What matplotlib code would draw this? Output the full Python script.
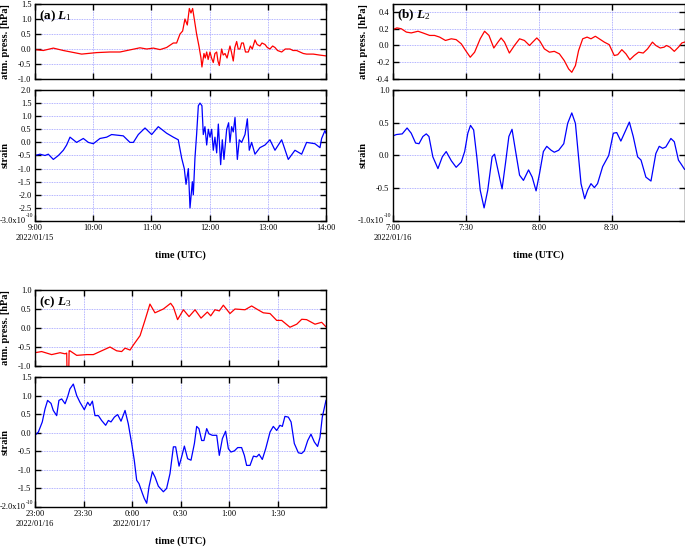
import matplotlib
matplotlib.use("Agg")
import matplotlib.pyplot as plt
import numpy as np
from matplotlib.ticker import FuncFormatter, MultipleLocator

plt.rcParams['font.family'] = 'Liberation Serif'
plt.rcParams['mathtext.fontset'] = 'custom'
plt.rcParams['mathtext.rm'] = 'Liberation Serif'
plt.rcParams['mathtext.it'] = 'Liberation Serif:italic:bold'
plt.rcParams['mathtext.bf'] = 'Liberation Serif:bold'
plt.rcParams['axes.unicode_minus'] = False

# ---- (a) L1, 2022/01/15 9:00-14:00 (minutes after 9:00) ----
a_p_t = [0, 8.6, 18.9, 29.2, 48.1, 63.6, 77.3, 87.6, 97.9, 108.2, 115.1, 122, 128.9,
         135.7, 142.6, 146, 149.5, 152.2, 154.6, 157, 159.1, 160.8, 162.5, 164.2, 166.6,
         169, 171.1, 172.1, 174.2, 175.5, 177, 178.5, 180.4, 182, 183.8, 185.5, 187.3,
         188.6, 190, 192.4, 194, 195.9, 198, 201, 202.5, 204.4, 206, 207.9, 209.5, 211.3,
         213, 214.8, 217, 219.9, 222, 224, 226.8, 229, 231.9, 234, 237.1, 239.5, 242.2,
         245, 247.4, 250, 254.3, 258, 262.9, 266, 269.7, 276.6, 280, 286.9, 293, 300]
a_p_v = [-0.02, -0.05, 0.03, -0.05, -0.17, -0.12, -0.1, -0.1, -0.03, 0.04, 0.0, 0.03, -0.02,
         0.05, 0.2, 0.2, 0.5, 0.6, 1.0, 0.8, 1.35, 1.2, 1.35, 1.0, 0.5,
         0.1, -0.3, -0.6, -0.15, -0.3, -0.1, -0.35, -0.1, -0.3, -0.45, -0.15, -0.1,
         -0.4, -0.55, 0.0, -0.2, -0.15, -0.3, 0.1, -0.1, -0.4, 0.05, 0.25, 0.0, 0.0,
         0.2, 0.2, -0.1, -0.1, 0.1, 0.0, 0.3, 0.15, 0.1, 0.2, 0.15, 0.05, 0.0,
         0.1, 0.05, -0.05, -0.1, 0.0, 0.0, -0.05, -0.05, -0.15, -0.17, -0.17, -0.2, -0.23]
a_s_t = [0, 5.2, 10.3, 13.7, 18.9, 24.1, 29.2, 32.6, 36.1, 42.9, 49.8, 55, 60.1, 67, 73.9,
         79, 91, 97.9, 101.4, 106.5, 113.4, 120.3, 127.1, 135.7, 142.6, 147.7, 151.2, 153.9,
         155.7, 158.1, 159.8, 162.2, 163.2, 164.9, 166.6, 168.4, 170.1, 172.1, 173.5, 175.2,
         177, 178.7, 180.4, 182.1, 183.8, 185.5, 187.3, 189, 191.4, 193.1, 194.8, 197.6,
         199.6, 201, 202.7, 204.4, 206.2, 208.6, 210.6, 213, 216.5, 218.9, 220.9, 223.3,
         226.8, 231.9, 237.1, 242.2, 247.4, 254.3, 261.1, 268, 274.9, 280, 288.6, 293.8,
         295.5, 298.9, 300]
a_s_v = [-0.5, -0.45, -0.5, -0.45, -0.65, -0.5, -0.3, -0.1, 0.2, 0.0, 0.15, 0.0, -0.05, 0.15, 0.2,
         0.3, 0.25, 0.0, 0.0, 0.3, 0.55, 0.3, 0.6, 0.35, 0.2, 0.1, -0.6, -1.0,
         -1.6, -1.0, -2.5, -1.5, -2.0, -0.6, 0.3, 1.4, 1.5, 1.4, 0.3, 0.6,
         -0.1, 0.5, 0.2, 0.5, -0.3, 0.2, -0.4, 0.7, -0.85, 0.1, -0.65, 0.5,
         0.75, 0.0, 0.6, 0.4, 0.95, -0.65, 0.1, 0.0, 0.3, 0.9, -0.3, 0.0,
         -0.45, -0.2, -0.1, 0.1, -0.3, 0.1, -0.65, -0.3, -0.45, 0.0, -0.05, -0.2,
         0.15, 0.45, 0.35]
a_ticks = [0, 60, 120, 180, 240, 300]
a_labels = ['9:00\n2022/01/15', '10:00', '11:00', '12:00', '13:00', '14:00']

# ---- (b) L2, 2022/01/16 7:00-9:00 (minutes after 7:00) ----
b_p_t = [0, 1.6, 3.4, 5.5, 7.5, 10.3, 12.3, 15.1, 17.1, 19.2, 21.6, 24.0, 26.0, 28.1, 29.9,
         31.8, 33.6, 35.9, 37.7, 39.5, 41.5, 43.2, 44.5, 45.9, 47.9, 50.0, 52.1, 54.1, 56.2,
         57.5, 59.2, 60.5, 62.3, 64.4, 66.4, 68.5, 70.5, 72.3, 73.6, 75.1, 76.4, 78.1, 79.9,
         81.5, 83.3, 84.9, 87.0, 89.0, 91.1, 92.5, 94.2, 95.9, 97.5, 99.3, 101.1, 103.0,
         104.8, 106.8, 108.2, 110.0, 111.6, 112.6, 114.0, 115.8, 117.5, 118.9, 120]
b_p_v = [0.19, 0.21, 0.20, 0.16, 0.15, 0.17, 0.15, 0.12, 0.12, 0.10, 0.06, 0.08, 0.07, 0.02,
         -0.06, -0.14, -0.08, 0.08, 0.17, 0.12, -0.03, 0.04, 0.09, 0.04, -0.09, 0.0, 0.08,
         0.06, 0.0, 0.04, 0.09, 0.05, -0.04, -0.08, -0.07, -0.1, -0.18, -0.28, -0.32, -0.24,
         -0.06, 0.08, 0.10, 0.08, 0.11, 0.08, 0.04, 0.01, -0.12, -0.11, -0.05, -0.1, -0.17,
         -0.12, -0.08, -0.09, -0.04, 0.04, 0.0, -0.03, -0.02, 0.0, -0.02, -0.07, -0.02, 0.03,
         0.04]
b_s_t = [0, 1.4, 3.8, 5.8, 7.5, 9.3, 10.7, 12.3, 13.7, 14.8, 16.4, 18.5, 20.3, 21.9, 24.0,
         26.0, 28.1, 29.5, 30.8, 31.9, 33.2, 34.5, 35.9, 37.5, 39.0, 40.8, 41.8, 43.2, 44.9,
         46.3, 47.7, 49.0, 50.4, 52.1, 53.7, 55.8, 57.3, 58.9, 60.3, 61.9, 63.3, 65.1, 66.4,
         68.2, 70.3, 71.9, 73.6, 75.1, 76.0, 77.4, 78.9, 80.1, 81.5, 82.9, 84.2, 86.3, 88.8,
         90.7, 92.1, 93.8, 95.5, 97.3, 98.9, 100.7, 102.1, 104.1, 106.2, 108.2, 109.6, 111.0,
         112.3, 114.4, 115.8, 117.5, 118.6, 120]
b_s_v = [0.30, 0.32, 0.33, 0.42, 0.34, 0.19, 0.18, 0.29, 0.33, 0.29, -0.02, -0.20, -0.02, 0.06,
         -0.08, -0.18, -0.10, 0.06, 0.34, 0.46, 0.39, -0.02, -0.53, -0.80, -0.53, -0.02, 0.02,
         -0.22, -0.51, -0.12, 0.29, 0.40, 0.08, -0.30, -0.38, -0.22, -0.33, -0.54, -0.28, 0.06,
         0.14, 0.08, 0.05, 0.08, 0.18, 0.49, 0.65, 0.49, 0.13, -0.43, -0.66, -0.53, -0.43,
         -0.49, -0.43, -0.17, 0.0, 0.34, 0.35, 0.22, 0.36, 0.51, 0.29, -0.02, -0.07, -0.33,
         -0.39, 0.03, 0.14, 0.11, 0.13, 0.26, 0.21, -0.07, -0.13, -0.21]
b_ticks = [0, 30, 60, 90]
b_labels = ['7:00\n2022/01/16', '7:30', '8:00', '8:30']

# ---- (c) L3, 2022/01/16 23:00 - 01/17 2:00 (minutes after 23:00) ----
c_p_t = [0, 4.1, 10.3, 15.5, 18.6, 19.6, 19.8, 20.9, 21.1, 21.6, 25.8, 32, 36.1, 40.2, 46.4,
         50.5, 53.6, 55.7, 58.8, 60.8, 65, 68, 71.1, 74.2, 79.4, 83.9, 85.6, 88.2, 91.8,
         95.3, 99, 102.7, 106.6, 108.7, 111.3, 114, 116.5, 120.6, 123.7, 129.9, 134, 137.1,
         141.2, 145.4, 149.5, 152.6, 157.7, 161.9, 165, 168, 173.2, 177.3, 180]
c_p_v = [-0.65, -0.62, -0.7, -0.65, -0.68, -0.66, -1.1, -1.1, -0.6, -0.6, -0.72, -0.7, -0.7,
         -0.62, -0.5, -0.6, -0.62, -0.53, -0.58, -0.45, -0.2, 0.2, 0.63, 0.4, 0.5, 0.65, 0.55,
         0.22, 0.48, 0.3, 0.48, 0.26, 0.42, 0.32, 0.48, 0.45, 0.6, 0.38, 0.5, 0.48, 0.58, 0.5,
         0.4, 0.38, 0.2, 0.2, 0.02, 0.1, 0.23, 0.22, 0.1, 0.15, 0.03]
c_s_t = [0, 2.1, 4.5, 6.2, 7.8, 9.9, 11.3, 13.4, 14.8, 16.5, 18.6, 20.2, 21.6, 23.7, 25.8,
         27.8, 30.5, 32.6, 34.0, 35.5, 37.1, 39.2, 41.2, 43.7, 45.4, 47.0, 49.1, 51.1, 53.2,
         55.7, 57.7, 59.8, 61.4, 62.9, 64.3, 66.4, 67.6, 69.1, 70.5, 72.6, 74.2, 76.3, 79.4,
         81.4, 83.5, 85.6, 87.0, 89.1, 90.7, 92.4, 94.4, 96.5, 98.6, 100.0, 101.4, 103.1,
         104.5, 106.2, 107.6, 109.7, 112.4, 114.0, 115.9, 117.9, 119.6, 121.2, 123.3, 125.4,
         127.8, 129.5, 130.9, 133.0, 135.1, 137.1, 138.6, 140.6, 142.7, 145.4, 147.4, 149.5,
         151.5, 153.0, 154.6, 156.7, 158.4, 160.4, 162.9, 164.9, 166.6, 168.7, 170.7, 172.8,
         174.8, 176.3, 177.7, 180]
c_s_v = [-0.07, 0.02, 0.29, 0.64, 0.87, 0.79, 0.60, 0.46, 0.87, 0.91, 0.78, 0.97, 1.18, 1.31,
         1.0, 0.82, 0.62, 0.82, 0.73, 0.85, 0.46, 0.46, 0.33, 0.20, 0.33, 0.29, 0.42, 0.49,
         0.31, 0.60, 0.24, -0.29, -0.74, -1.28, -1.37, -1.63, -1.77, -1.90, -1.46, -1.05,
         -1.19, -1.44, -1.59, -1.5, -1.10, -0.38, -0.38, -0.90, -0.65, -0.36, -0.70, -0.74,
         -0.29, 0.17, 0.11, -0.21, -0.21, 0.11, -0.03, -0.07, -0.07, -0.61, -0.16, 0.04,
         -0.43, -0.52, -0.49, -0.40, -0.40, -0.61, -0.88, -0.88, -0.63, -0.65, -0.58, -0.72,
         -0.43, 0.02, 0.17, 0.06, 0.20, 0.17, 0.44, 0.42, 0.29, -0.29, -0.54, -0.56, -0.49,
         -0.21, -0.04, -0.25, -0.37, -0.12, 0.42, 0.87]
c_ticks = [0, 30, 60, 90, 120, 150]
c_labels = ['23:00\n2022/01/16', '23:30', '0:00\n2022/01/17', '0:30', '1:00', '1:30']

W, H = 685.0, 547.0
fig = plt.figure(figsize=(6.85, 5.47), dpi=100)


def box(x0, y0, x1, y1):
    # pixel box -> figure fraction
    return [x0 / W, 1 - y1 / H, (x1 - x0) / W, (y1 - y0) / H]


def style(ax, xmax, xticks, ystep):
    ax.set_xlim(0, xmax)
    ax.set_xticks(xticks)
    ax.yaxis.set_major_locator(MultipleLocator(ystep))
    ax.tick_params(direction='in', top=True, right=True, length=4, width=1,
                   labelsize=6, pad=2.5)
    ax.grid(True, color='#9a9aff', linestyle=(0, (1, 1)), linewidth=0.6)
    for s in ax.spines.values():
        s.set_linewidth(1)


def bottom_fmt(ymin):
    def f(v, pos):
        if abs(v - ymin) < 1e-6:
            return ''
        return '%.1f' % v
    return FuncFormatter(f)


def panel(pbox, sbox, tag, num, pt, pv, st, sv, xmax, ticks, labels,
          plim, pstep, slim, sstep):
    axp = fig.add_axes(box(*pbox))
    axp.plot(pt, pv, color='red', lw=0.9)
    style(axp, xmax, ticks, pstep)
    axp.set_ylim(*plim)
    axp.set_xticklabels([])
    axp.yaxis.set_major_formatter(FuncFormatter(lambda v, p: '%.1f' % v))
    axp.set_ylabel('atm. press. [hPa]', fontsize=7.5, fontweight='bold')
    axp.yaxis.set_label_coords(-25.0 / (pbox[2] - pbox[0]), 0.5)
    axp.text(4.0 / (pbox[2] - pbox[0]), 0.84, '(%s) $L_{\\mathit{%s}}$' % (tag, num),
             transform=axp.transAxes, fontsize=9.5, fontweight='bold', va='center')

    axs = fig.add_axes(box(*sbox))
    axs.plot(st, sv, color='blue', lw=0.9)
    style(axs, xmax, ticks, sstep)
    axs.set_ylim(*slim)
    axs.set_xticklabels(labels)
    axs.yaxis.set_major_formatter(bottom_fmt(slim[0]))
    # bottom label with the x10^-10 factor
    axs.annotate('%.1fx10' % slim[0], xy=(0, slim[0]), xycoords=('axes fraction', 'data'),
                 xytext=(-9.5, 0), textcoords='offset pixels', ha='right', va='center',
                 fontsize=6)
    axs.annotate('-10', xy=(0, slim[0]), xycoords=('axes fraction', 'data'),
                 xytext=(-9.5, 5), textcoords='offset pixels', ha='left', va='center',
                 fontsize=4)
    axs.set_ylabel('strain', fontsize=7.5, fontweight='bold')
    axs.yaxis.set_label_coords(-25.0 / (sbox[2] - sbox[0]), 0.5)
    fig.text((sbox[0] + sbox[2]) / 2 / W, 1 - (sbox[3] + 34) / H, 'time (UTC)',
             ha='center', va='center', fontsize=7.5, fontweight='bold')


panel((35, 4, 326, 79), (35, 90, 326, 221), 'a', '1', a_p_t, a_p_v, a_s_t, a_s_v,
      300, a_ticks, a_labels, (-1.0, 1.5), 0.5, (-3.0, 2.0), 0.5)
panel((393, 3.6, 684.5, 79), (393, 90, 684.5, 221), 'b', '2', b_p_t, b_p_v, b_s_t, b_s_v,
      120, b_ticks, b_labels, (-0.4, 0.5), 0.2, (-1.0, 1.0), 0.5)
panel((35, 290, 326, 366), (35, 377, 326, 507), 'c', '3', c_p_t, c_p_v, c_s_t, c_s_v,
      180, c_ticks, c_labels, (-1.0, 1.0), 0.5, (-2.0, 1.5), 0.5)

fig.savefig('out.png', dpi=100)
